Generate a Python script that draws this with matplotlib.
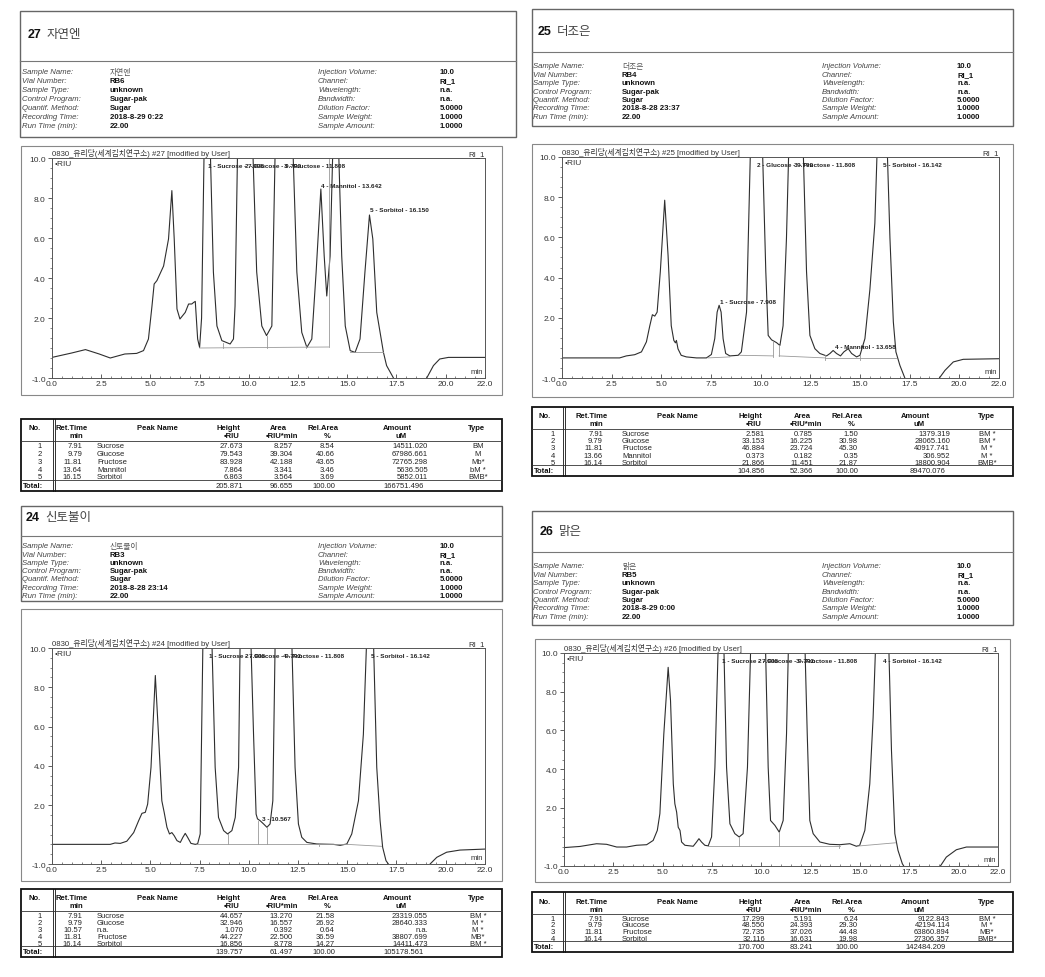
import matplotlib
matplotlib.use("Agg")
import matplotlib.pyplot as plt
from matplotlib.patches import Rectangle
from matplotlib.ticker import MultipleLocator, FormatStrFormatter
import numpy as np

plt.rcParams["font.family"] = ["Liberation Sans", "Noto Sans CJK KR"]

W, H = 1045, 978

# ---------------- report header data (order: 27, 25, 24, 26)
SAMPLE_NO = ["27", "25", "24", "26"]
SAMPLE_NAME = ["자연엔", "더조은", "신토불이", "맑은"]
VIAL = ["RB6", "RB4", "RB3", "RB5"]
REC_TIME = ["2018-8-29 0:22", "2018-8-28 23:37", "2018-8-28 23:14", "2018-8-29 0:00"]

INFO_LABELS_L = ["Sample Name:", "Vial Number:", "Sample Type:", "Control Program:",
                 "Quantif. Method:", "Recording Time:", "Run Time (min):"]
INFO_LABELS_R = ["Injection Volume:", "Channel:", "Wavelength:", "Bandwidth:",
                 "Dilution Factor:", "Sample Weight:", "Sample Amount:"]
INFO_VALUES_R = ["10.0", "RI_1", "n.a.", "n.a.", "5.0000", "1.0000", "1.0000"]

# ---------------- chromatograms, (min, uRIU)
CURVE27 = [
    (0.0, 0.03), (1.0, 0.25), (1.7, 0.42), (2.4, 0.2), (2.96, 0.0), (3.7, 0.2),
    (4.3, 0.23), (4.65, 0.37), (4.9, 0.95), (5.08, 2.6), (5.19, 3.7), (5.33, 3.87),
    (5.67, 4.6), (5.92, 5.95), (6.09, 8.37), (6.21, 5.95), (6.35, 2.45), (6.5, 1.95),
    (6.77, 2.28), (6.94, 2.7), (7.1, 2.7), (7.2, 2.78), (7.28, 2.83), (7.4, 0.95),
    (7.5, 0.53), (7.6, 2.0), (7.73, 10.5), (7.91, 27.7), (8.04, 10.5), (8.2, 4.3),
    (8.38, 1.6), (8.63, 0.87), (9.05, 0.7), (9.22, 0.95), (9.3, 2.6), (9.43, 10.5),
    (9.79, 79.5), (10.2, 10.5), (10.4, 4.3), (10.66, 1.6), (10.9, 1.12), (11.17, 1.6),
    (11.34, 10.5), (11.81, 83.9), (12.24, 10.5), (12.44, 4.3), (12.69, 1.28),
    (12.95, 0.53), (13.2, 0.95), (13.42, 4.3), (13.66, 8.45), (13.83, 5.1),
    (13.96, 3.1), (14.13, 5.1), (14.27, 10.5), (14.42, 15.0), (14.56, 10.5),
    (14.72, 5.1), (14.9, 1.6), (15.15, 0.37), (15.4, 0.28), (15.65, 0.95), (15.9, 4.3),
    (16.13, 7.15), (16.3, 5.95), (16.5, 2.28), (16.67, 1.28), (16.84, 0.28),
    (17.0, -0.38), (17.35, -1.0), (18.2, -3.0), (19.04, -1.0), (19.38, -0.38),
    (19.7, -0.05), (20.14, 0.03), (22.0, 0.03)]
CURVE25 = [
    (0.0, 0.0), (2.9, 0.0), (3.24, 0.1), (3.66, 0.16), (4.0, 0.3), (4.25, 0.8),
    (4.42, 1.6), (4.55, 2.15), (4.67, 2.08), (4.79, 2.28), (4.95, 4.3), (5.17, 7.85),
    (5.34, 5.1), (5.5, 1.6), (5.63, 0.87), (5.71, 0.75), (5.76, 0.87), (5.84, 0.45),
    (6.0, 0.13), (6.26, 0.05), (6.77, 0.0), (7.27, 0.0), (7.52, 0.17), (7.69, 0.96),
    (7.81, 2.28), (7.91, 2.62), (8.01, 2.28), (8.11, 0.96), (8.24, 0.22), (8.45, 0.1),
    (8.87, 0.13), (9.03, 0.3), (9.29, 2.28), (9.49, 10.5), (9.79, 33.2), (10.09, 10.5),
    (10.26, 4.3), (10.38, 1.12), (10.55, 0.9), (10.8, 0.76), (10.97, 0.62),
    (11.13, 1.6), (11.3, 5.95), (11.42, 10.5), (11.81, 46.9), (12.14, 10.5),
    (12.31, 4.3), (12.48, 1.12), (12.73, 0.46), (12.98, 0.22), (13.32, 0.1),
    (13.49, 0.22), (13.65, 0.37), (13.82, 0.22), (14.02, 0.1), (14.19, 0.3),
    (14.41, 0.46), (14.58, 0.22), (14.83, 0.05), (15.0, 0.13), (15.25, 0.96),
    (15.5, 3.4), (15.75, 6.7), (15.87, 10.5), (16.14, 21.9), (16.37, 10.5),
    (16.51, 5.95), (16.68, 1.8), (16.81, 0.3), (17.01, -0.37), (17.26, -1.0),
    (18.1, -3.0), (19.0, -1.0), (19.28, -0.62), (19.7, -0.2), (20.2, -0.07), (22.0, -0.04)]
CURVE24 = [
    (0.0, 0.0), (2.96, 0.0), (3.2, 0.07), (3.47, 0.05), (3.8, 0.16), (4.15, 0.6),
    (4.4, 1.2), (4.57, 1.58), (4.74, 1.63), (4.86, 2.05), (5.03, 3.92), (5.25, 8.6),
    (5.41, 5.6), (5.58, 2.22), (5.7, 1.63), (5.84, 0.87), (5.97, 0.53), (6.09, 0.6),
    (6.21, 0.44), (6.35, 0.19), (6.52, 0.1), (6.65, 0.36), (6.77, 0.56), (6.89, 0.36),
    (7.06, 0.05), (7.28, 0.0), (7.4, 0.03), (7.53, 0.53), (7.67, 10.5), (7.91, 44.7),
    (8.12, 10.5), (8.29, 3.92), (8.46, 1.37), (8.72, 0.7), (8.92, 0.53), (9.14, 0.7),
    (9.31, 1.37), (9.48, 3.92), (9.56, 10.5), (9.79, 33.0), (10.1, 10.5), (10.24, 5.6),
    (10.37, 1.54), (10.44, 1.3), (10.58, 1.2), (10.75, 1.04), (10.92, 0.87),
    (11.08, 1.04), (11.22, 2.22), (11.34, 10.5), (11.81, 44.2), (12.18, 10.5),
    (12.35, 3.92), (12.52, 1.04), (12.69, 0.36), (12.95, 0.1), (13.45, 0.02),
    (14.3, 0.0), (14.64, -0.05), (14.98, 0.02), (15.23, 0.53), (15.57, 2.22),
    (15.82, 5.6), (15.99, 10.5), (16.14, 16.9), (16.33, 10.5), (16.5, 3.92),
    (16.67, 1.2), (16.8, -0.15), (16.97, -0.83), (17.09, -1.0), (18.2, -3.0),
    (19.21, -1.0), (19.55, -0.66), (20.05, -0.4), (20.73, -0.29), (22.0, -0.24)]
CURVE26 = [
    (0.0, -0.05), (0.81, 0.01), (1.65, 0.15), (2.16, 0.12), (2.67, -0.02), (3.17, -0.02),
    (3.68, 0.07), (4.19, 0.1), (4.52, 0.32), (4.73, 0.84), (4.86, 1.7), (5.06, 5.82),
    (5.28, 9.26), (5.4, 7.54), (5.54, 3.24), (5.62, 2.21), (5.71, 1.78), (5.79, 1.0),
    (5.88, 0.84), (5.96, 0.24), (6.13, 0.07), (6.55, 0.02), (6.72, 0.24), (6.84, 0.41),
    (6.97, 0.24), (7.14, 0.07), (7.31, 0.04), (7.48, 0.5), (7.65, 4.1), (7.82, 10.5),
    (7.91, 17.3), (8.1, 10.5), (8.24, 4.1), (8.41, 1.18), (8.66, 0.67), (8.88, 0.5),
    (9.08, 0.67), (9.3, 4.1), (9.47, 10.5), (9.79, 48.6), (10.21, 10.5), (10.35, 4.1),
    (10.47, 1.35), (10.69, 1.1), (10.91, 0.75), (11.11, 1.35), (11.28, 5.82),
    (11.38, 10.5), (11.81, 72.7), (12.21, 10.5), (12.33, 5.82), (12.46, 1.35),
    (12.63, 0.67), (12.97, 0.24), (13.47, 0.12), (13.98, 0.1), (14.49, 0.15),
    (14.82, 0.02), (14.99, 0.07), (15.25, 0.84), (15.5, 3.24), (15.67, 6.68),
    (15.8, 10.5), (16.14, 32.1), (16.46, 10.5), (16.6, 4.96), (16.77, 0.67),
    (16.93, -0.19), (17.15, -0.88), (17.22, -1.0), (18.1, -3.0), (19.08, -1.0),
    (19.38, -0.54), (19.89, -0.16), (20.4, -0.02), (22.0, -0.02)]

# integration baselines (t0, v0, t1, v1) and drop lines (t, v_low, v_high)
BASE27 = [(7.5, 0.5, 14.05, 0.55), (15.15, 0.28, 16.84, 0.28)]
DROP27 = [(8.7, 0.5, 0.75), (10.9, 0.5, 1.1), (12.93, 0.5, 0.6), (14.05, 0.55, 10.0)]
BASE25 = [(7.35, 0.0, 8.45, 0.05), (8.95, 0.13, 10.63, 0.1),
          (10.93, 0.1, 13.23, 0.0), (13.23, 0.0, 16.81, 0.0)]
DROP25 = [(10.63, 0.05, 0.85), (10.93, 0.1, 0.62), (13.23, -0.1, 0.15), (15.0, -0.1, 0.15)]
BASE24 = [(7.37, 0.0, 15.0, 0.0), (15.0, 0.0, 16.75, -0.1)]
DROP24 = [(8.92, 0.0, 0.53), (10.49, 0.0, 1.2), (10.92, 0.0, 0.87), (13.57, -0.1, 0.05)]
BASE26 = [(7.31, 0.05, 13.98, 0.05), (14.9, 0.03, 16.82, 0.2)]
DROP26 = [(8.88, 0.05, 0.5), (10.91, 0.05, 0.75), (13.95, -0.08, 0.1)]

# peak labels (text, min, uRIU)
LABELS27 = [("1 - Sucrose - 7.908", 7.95, 9.62), ("2 - Glucose - 9.792", 9.8, 9.62),
            ("3 - Fructose - 11.808", 11.8, 9.62), ("4 - Mannitol - 13.642", 13.66, 8.6),
            ("5 - Sorbitol - 16.150", 16.16, 7.4)]
LABELS25 = [("2 - Glucose - 9.792", 9.82, 9.62), ("3 - Fructose - 11.808", 11.7, 9.62),
            ("5 - Sorbitol - 16.142", 16.17, 9.62), ("1 - Sucrose - 7.908", 7.94, 2.8),
            ("4 - Mannitol - 13.658", 13.74, 0.55)]
LABELS24 = [("1 - Sucrose - 7.908", 8.0, 9.62), ("2 - Glucose - 9.792", 9.82, 9.62),
            ("4 - Fructose - 11.808", 11.75, 9.62), ("5 - Sorbitol - 16.142", 16.2, 9.62),
            ("3 - 10.567", 10.65, 1.3)]
LABELS26 = [("1 - Sucrose - 7.908", 7.99, 9.62), ("2 - Glucose - 9.792", 9.84, 9.62),
            ("3 - Fructose - 11.808", 11.75, 9.62), ("4 - Sorbitol - 16.142", 16.17, 9.62)]

# ---------------- peak tables
TABLE_HEAD1 = ["No.", "Ret.Time", "Peak Name", "Height", "Area", "Rel.Area", "Amount", "Type"]
TABLE_HEAD2 = ["", "min", "", "•RIU", "•RIU*min", "%", "uM", ""]
ROWS27 = [["1", "7.91", "Sucrose", "27.673", "8.257", "8.54", "14511.020", "BM"],
          ["2", "9.79", "Glucose", "79.543", "39.304", "40.66", "67986.661", "M"],
          ["3", "11.81", "Fructose", "83.928", "42.188", "43.65", "72765.298", "Mb*"],
          ["4", "13.64", "Mannitol", "7.864", "3.341", "3.46", "5636.505", "bM *"],
          ["5", "16.15", "Sorbitol", "6.863", "3.564", "3.69", "5852.011", "BMB*"]]
TOTAL27 = ["205.871", "96.655", "100.00", "166751.496"]
ROWS25 = [["1", "7.91", "Sucrose", "2.581", "0.785", "1.50", "1379.319", "BM *"],
          ["2", "9.79", "Glucose", "33.153", "16.225", "30.98", "28065.160", "BM *"],
          ["3", "11.81", "Fructose", "46.884", "23.724", "45.30", "40917.741", "M *"],
          ["4", "13.66", "Mannitol", "0.373", "0.182", "0.35", "306.952", "M *"],
          ["5", "16.14", "Sorbitol", "21.866", "11.451", "21.87", "18800.904", "BMB*"]]
TOTAL25 = ["104.856", "52.366", "100.00", "89470.076"]
ROWS24 = [["1", "7.91", "Sucrose", "44.657", "13.270", "21.58", "23319.055", "BM *"],
          ["2", "9.79", "Glucose", "32.946", "16.557", "26.92", "28640.333", "M *"],
          ["3", "10.57", "n.a.", "1.070", "0.392", "0.64", "n.a.", "M *"],
          ["4", "11.81", "Fructose", "44.227", "22.500", "36.59", "38807.699", "MB*"],
          ["5", "16.14", "Sorbitol", "16.856", "8.778", "14.27", "14411.473", "BM *"]]
TOTAL24 = ["139.757", "61.497", "100.00", "105178.561"]
ROWS26 = [["1", "7.91", "Sucrose", "17.299", "5.191", "6.24", "9122.843", "BM *"],
          ["2", "9.79", "Glucose", "48.550", "24.393", "29.30", "42194.114", "M *"],
          ["3", "11.81", "Fructose", "72.735", "37.026", "44.48", "63860.894", "MB*"],
          ["4", "16.14", "Sorbitol", "32.116", "16.631", "19.98", "27306.357", "BMB*"]]
TOTAL26 = ["170.700", "83.241", "100.00", "142484.209"]

# ---------------- page layout in pixels (x0, y0, x1, y1), y from the top
HEAD_BOX = [(20, 12, 516, 138, 62), (532, 10, 1013, 127, 53),
            (21, 507, 502, 602, 537), (532, 512, 1013, 626, 553)]
TITLE_XY = [(28, 35), (538, 32), (26, 518), (540, 532)]
INFO_Y = [(72.7, 9.0), (67, 8.35), (547, 8.2), (567, 8.35)]
INFO_X = [(22, 110, 318, 440), (533, 622, 822, 957), (22, 110, 318, 440), (533, 622, 822, 957)]
CHART_BOX = [(21, 147, 502, 396), (532, 145, 1013, 398), (21, 610, 502, 882), (535, 640, 1010, 883)]
AXES_BOX = [(52, 159, 485, 379), (562, 158, 999, 379), (52, 649, 485, 865), (564, 654, 998, 867)]
TABLE_BOX = [(21, 420, 502, 492), (532, 408, 1013, 477), (21, 890, 502, 958), (532, 893, 1013, 953)]
COL_HEAD_L = [14, 51, 136, 207, 257, 302, 376, 456]
COL_VAL_L = [21, 61, 76, 222, 272, 314, 407, 457]
COL_HEAD_R = [13, 60, 145, 218, 270, 315, 383, 455]
COL_VAL_R = [23, 71, 90, 233, 281, 326, 418, 455]
COL_ALIGN = ["right", "right", "left", "right", "right", "right", "right", "center"]

FS_INFO = 5.6
FS_TAB = 5.5


def draw_header(ov, i):
    x0, y0, x1, y1, ysep = HEAD_BOX[i]
    ov.add_patch(Rectangle((x0, y0), x1 - x0, y1 - y0, fill=False, ec="#666", lw=1.0))
    ov.plot([x0, x1], [ysep, ysep], color="#777", lw=0.8)
    tx, ty = TITLE_XY[i]
    ov.text(tx, ty, SAMPLE_NO[i], fontsize=9, fontweight="bold", va="center", color="#111")
    ov.text(tx + 19, ty, SAMPLE_NAME[i], fontsize=9, va="center", color="#444")

    yy, dy = INFO_Y[i]
    lx, vx, rlx, rvx = INFO_X[i]
    left_vals = [SAMPLE_NAME[i], VIAL[i], "unknown", "Sugar-pak", "Sugar", REC_TIME[i], "22.00"]
    for k in range(7):
        y = yy + k * dy
        ov.text(lx, y, INFO_LABELS_L[k], fontsize=FS_INFO, style="italic", color="#444", va="center")
        if k == 0:
            ov.text(vx, y, left_vals[k], fontsize=FS_INFO, color="#555", va="center")
        else:
            ov.text(vx, y, left_vals[k], fontsize=FS_INFO, fontweight="bold", color="#111", va="center")
        ov.text(rlx, y, INFO_LABELS_R[k], fontsize=FS_INFO, style="italic", color="#444", va="center")
        ov.text(rvx, y, INFO_VALUES_R[k], fontsize=FS_INFO, fontweight="bold", color="#111", va="center")


def draw_chart(fig, ov, i, curve, bases, drops, labels):
    x0, y0, x1, y1 = CHART_BOX[i]
    ov.add_patch(Rectangle((x0, y0), x1 - x0, y1 - y0, fill=False, ec="#888", lw=0.8))

    a0, b0, a1, b1 = AXES_BOX[i]
    ax = fig.add_axes([a0 / W, 1 - b1 / H, (a1 - a0) / W, (b1 - b0) / H])
    ax.set_facecolor("none")
    t, v = np.array(curve).T
    ax.plot(t, v, color="#2e2e2e", lw=0.8)
    for t0, v0, t1, v1 in bases:
        ax.plot([t0, t1], [v0, v1], color="#999", lw=0.6)
    for td, lo, hi in drops:
        ax.plot([td, td], [lo, hi], color="#999", lw=0.6)
    for s, tl, vl in labels:
        ax.text(tl, vl, s, fontsize=4.6, fontweight="bold", va="center", ha="left",
                color="#222", clip_on=False)

    ax.set_xlim(0, 22)
    ax.set_ylim(-1, 10)
    ax.set_xticks([0, 2.5, 5, 7.5, 10, 12.5, 15, 17.5, 20, 22])
    ax.set_yticks([-1, 2, 4, 6, 8, 10])
    ax.xaxis.set_minor_locator(MultipleLocator(0.5))
    ax.yaxis.set_minor_locator(MultipleLocator(0.5))
    ax.xaxis.set_major_formatter(FormatStrFormatter("%.1f"))
    ax.yaxis.set_major_formatter(FormatStrFormatter("%.1f"))
    ax.tick_params(axis="x", which="both", direction="in")
    ax.tick_params(axis="y", which="both", direction="out")
    ax.tick_params(which="major", labelsize=6, length=3, width=0.6, color="#444",
                   labelcolor="#333", pad=1.5)
    ax.tick_params(which="minor", length=1.5, width=0.5, color="#555")
    for sp in ax.spines.values():
        sp.set_color("#555")
        sp.set_linewidth(0.7)

    ax.text(0.0, 1.004, "0830_유리당(세계김치연구소) #%s [modified by User]" % SAMPLE_NO[i],
            transform=ax.transAxes, fontsize=5.6, va="bottom", ha="left", color="#333")
    ax.text(1.0, 1.004, "RI_1", transform=ax.transAxes, fontsize=5.6, va="bottom",
            ha="right", color="#333")
    ax.text(0.005, 0.99, "•RIU", transform=ax.transAxes, fontsize=6, va="top", ha="left",
            color="#333")
    ax.text(0.995, 0.015, "min", transform=ax.transAxes, fontsize=5.6, va="bottom",
            ha="right", color="#333")


def draw_table(ov, i, rows, total, right_side):
    x0, y0, x1, y1 = TABLE_BOX[i]
    heads = COL_HEAD_R if right_side else COL_HEAD_L
    vals = COL_VAL_R if right_side else COL_VAL_L
    sep = 31 if right_side else 32
    ov.add_patch(Rectangle((x0, y0), x1 - x0, y1 - y0, fill=False, ec="#111", lw=1.3))
    ov.plot([x0 + sep, x0 + sep], [y0, y1], color="#111", lw=0.6)
    ov.plot([x0 + sep + 2, x0 + sep + 2], [y0, y1], color="#111", lw=0.6)
    hl = y0 + 22
    tl = y1 - 11
    ov.plot([x0, x1], [hl, hl], color="#333", lw=0.6)
    ov.plot([x0, x1], [tl, tl], color="#333", lw=0.6)

    for k in range(8):
        ov.text(x0 + heads[k], y0 + 9, TABLE_HEAD1[k], fontsize=FS_TAB, fontweight="bold",
                ha="center", va="center", color="#111")
        if TABLE_HEAD2[k]:
            ov.text(x0 + heads[k] + 4, y0 + 17, TABLE_HEAD2[k], fontsize=FS_TAB,
                    fontweight="bold", ha="center", va="center", color="#111")

    n = len(rows)
    rh = (tl - hl) / n
    for r, row in enumerate(rows):
        y = hl + (r + 0.5) * rh + 0.8
        for k in range(8):
            ov.text(x0 + vals[k], y, row[k], fontsize=FS_TAB, ha=COL_ALIGN[k],
                    va="center", color="#222")

    yt = (tl + y1) / 2
    ov.text(x0 + 2, yt, "Total:", fontsize=FS_TAB, fontweight="bold", ha="left",
            va="center", color="#111")
    for k, s in zip([3, 4, 5, 6], total):
        off = -4 if k == 6 else 0
        ov.text(x0 + vals[k] + off, yt, s, fontsize=FS_TAB, ha="right", va="center",
                color="#222")


def plot():
    fig = plt.figure(figsize=(W / 100, H / 100), dpi=100)
    ov = fig.add_axes([0, 0, 1, 1])
    ov.set_xlim(0, W)
    ov.set_ylim(H, 0)
    ov.axis("off")

    curves = [CURVE27, CURVE25, CURVE24, CURVE26]
    bases = [BASE27, BASE25, BASE24, BASE26]
    drops = [DROP27, DROP25, DROP24, DROP26]
    labels = [LABELS27, LABELS25, LABELS24, LABELS26]
    rows = [ROWS27, ROWS25, ROWS24, ROWS26]
    totals = [TOTAL27, TOTAL25, TOTAL24, TOTAL26]

    for i in range(4):
        draw_header(ov, i)
        draw_chart(fig, ov, i, curves[i], bases[i], drops[i], labels[i])
        draw_table(ov, i, rows[i], totals[i], right_side=(i % 2 == 1))

    fig.savefig("out.png", dpi=100)


if __name__ == "__main__":
    plot()
